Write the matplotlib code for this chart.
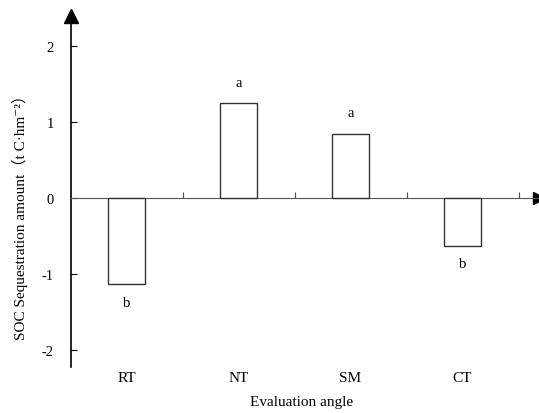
import matplotlib.pyplot as plt
import numpy as np

# data
treatments = ['RT', 'NT', 'SM', 'CT']
soc_values = [-1.14, 1.25, 0.85, -0.63]
letters = ['b', 'a', 'a', 'b']

plt.rcParams['font.family'] = ['Liberation Serif', 'DejaVu Serif', 'Noto Sans CJK SC']
plt.rcParams['font.size'] = 11

fig = plt.figure(figsize=(5.39, 4.14), dpi=100)
ax = fig.add_axes([70.5 / 539, 46 / 414, 468.5 / 539, 351 / 414])

x = np.arange(len(treatments)) + 0.5
ax.bar(x, soc_values, width=0.336, facecolor='white', edgecolor='#333333',
       linewidth=1.0, zorder=3)

# significance letters
for xi, v, lab in zip(x, soc_values, letters):
    off = 15 if v > 0 else -13
    ax.annotate(lab, (xi, v), xytext=(0, off), textcoords='offset points',
                ha='center', va='center', fontsize=10.5)

ax.set_xlim(0, 468.5 / 112)
ax.set_ylim(-2.23, 2.40)

# axes styling: x axis through zero, arrows on both axes
ax.spines['top'].set_visible(False)
ax.spines['right'].set_visible(False)
ax.spines['bottom'].set_position(('data', 0))
ax.spines['bottom'].set_color('#555555')
ax.spines['left'].set_color('black')
ax.spines['left'].set_linewidth(1.2)

ax.set_yticks([-2, -1, 0, 1, 2])
ax.set_yticklabels(['-2', '-1', '0', '1', '2'])
ax.tick_params(axis='y', direction='in', length=4, pad=12, width=0.8, labelsize=10.5)
ax.set_xticks([1, 2, 3, 4])
ax.set_xticklabels([])
ax.tick_params(axis='x', direction='in', length=4, width=0.8, color='#555555')

ax.plot(0, 1, marker='^', color='black', markersize=10,
        transform=ax.transAxes, clip_on=False)
ax.plot(1, 0, marker='>', color='black', markersize=8,
        transform=ax.get_yaxis_transform(), clip_on=False)

# category labels under the plot
for xi, name in zip(x, treatments):
    ax.text(xi, -11 / 351, name, ha='center', va='center',
            transform=ax.get_xaxis_transform(), fontsize=11)

fig.text(302 / 539, 1 - 403 / 414, 'Evaluation angle', ha='center', va='center', fontsize=11)
fig.text(20 / 539, 1 - 214 / 414, 'SOC Sequestration amount（t C·hm⁻²）',
         rotation=90, ha='center', va='center', fontsize=11)

fig.savefig('out.png', dpi=100)
